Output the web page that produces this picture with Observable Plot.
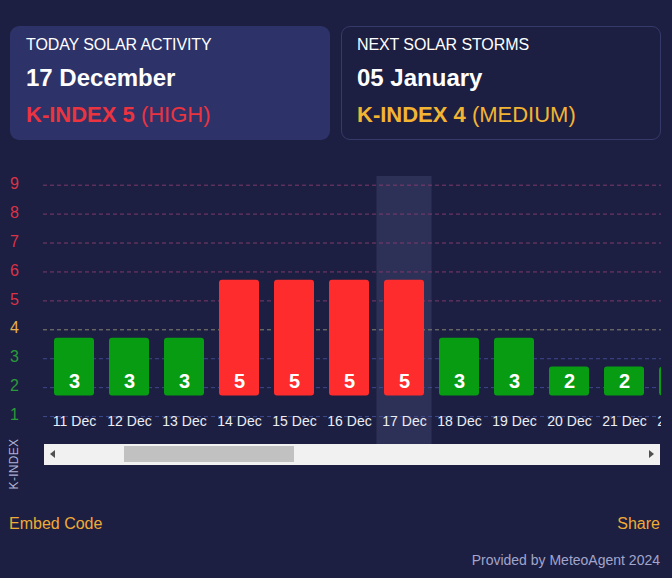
<!DOCTYPE html>
<html>
<head>
<meta charset="utf-8">
<script src="https://cdn.jsdelivr.net/npm/d3@7"></script>
<script src="https://cdn.jsdelivr.net/npm/@observablehq/plot@0.6"></script>
<style>
  html, body { margin: 0; padding: 0; }
  body { background: #1c1f41; font-family: "Liberation Sans", Arial, sans-serif; width: 672px; height: 578px; overflow: hidden; position: relative; }
  .card { position: absolute; top: 26px; width: 320px; height: 114px; box-sizing: border-box; border-radius: 9px; }
  .t { position: absolute; line-height: 1; white-space: nowrap; }
  .l1 { font-size: 16px; color: #ffffff; letter-spacing: -0.1px; }
  .l2 { font-size: 24px; font-weight: bold; color: #ffffff; }
  .l3 { font-size: 22px; }
  .l3 b { font-weight: bold; }
  #chart { position: absolute; left: 0; top: 160px; width: 661px; height: 285px; overflow: hidden; }
  #ylab { position: absolute; left: 14px; top: 464px; transform: translate(-50%, -50%) rotate(-90deg); font-size: 12px; color: #aeb1d6; letter-spacing: 0.3px; white-space: nowrap; }
  #track { position: absolute; left: 44px; top: 444px; width: 616px; height: 21px; background: #f1f1f1; }
  #thumb { position: absolute; left: 80px; top: 2px; width: 170px; height: 16px; background: #c1c1c1; }
  .arr { position: absolute; top: 6px; width: 0; height: 0; border-top: 4.5px solid transparent; border-bottom: 4.5px solid transparent; }
  #al { left: 6px; border-right: 5px solid #505050; }
  #ar { right: 6px; border-left: 5px solid #505050; }
  .foot { position: absolute; line-height: 1; white-space: nowrap; }
</style>
</head>
<body>
<div class="card" style="left:10px; background:#2d3268;"></div>
<div class="card" style="left:341px; border:1px solid #363a68;"></div>

<div class="t l1" style="left:26px; top:37px;">TODAY SOLAR ACTIVITY</div>
<div class="t l2" style="left:26px; top:66px;">17 December</div>
<div class="t l3" style="left:26px; top:104px; color:#ec3340;"><b>K-INDEX 5</b> (HIGH)</div>

<div class="t l1" style="left:357px; top:37px;">NEXT SOLAR STORMS</div>
<div class="t l2" style="left:357px; top:66px;">05 January</div>
<div class="t l3" style="left:357px; top:104px; color:#f4b433;"><b>K-INDEX 4</b> (MEDIUM)</div>

<div id="chart"></div>
<div id="ylab">K-INDEX</div>
<div id="track"><div id="al" class="arr"></div><div id="thumb"></div><div id="ar" class="arr"></div></div>

<div class="foot" style="left:9px; top:515.5px; font-size:16px; color:#f0ab35;">Embed Code</div>
<div class="foot" style="right:12px; top:515.5px; font-size:16px; color:#f0ab35;">Share</div>
<div class="foot" style="right:12px; top:553px; font-size:14px; color:#a2a5cc;">Provided by MeteoAgent 2024</div>

<script>
// ---- data ----
const days = ["11 Dec", "12 Dec", "13 Dec", "14 Dec", "15 Dec", "16 Dec", "17 Dec", "18 Dec", "19 Dec", "20 Dec", "21 Dec", "22 Dec"];
const kIndex = [3, 3, 3, 5, 5, 5, 5, 3, 3, 2, 2, 2];
const today = "17 Dec";
const yTicks = [1, 2, 3, 4, 5, 6, 7, 8, 9];

const data = days.map((day, i) => ({day, k: kIndex[i]}));

// ---- styles ----
const BAR_BASE = 1.71;
const barColor = k => k >= 5 ? "#fe2c2c" : k === 4 ? "#f4b433" : "#079c12";
const tickColor = k => k >= 5 ? "#db3348" : k === 4 ? "#e6b04c" : "#2a9b3a";
const gridColor = k => k >= 5 ? "#7e3a6c" : k === 4 ? "#8a8372" : "#3d4a8e";

const plot = Plot.plot({
  width: 661,
  height: 285,
  marginLeft: 43,
  marginRight: 0,
  marginTop: 16,
  marginBottom: 0,
  style: {background: "transparent", overflow: "hidden", fontFamily: "'Liberation Sans', Arial, sans-serif"},
  x: {type: "band", domain: days, range: [54, 699], paddingInner: 15 / 55, paddingOuter: 0, axis: null},
  y: {domain: [0, 9.3], axis: null},
  marks: [
    Plot.barY([today], {x: d => d, y1: 0, y2: 9.3, fill: "#2e3157", insetLeft: -7.5, insetRight: -7.5}),
    Plot.ruleY(yTicks, {y: d => d, stroke: d => gridColor(d), strokeDasharray: "4,3", strokeWidth: 1}),
    Plot.barY(data, {x: "day", y1: BAR_BASE, y2: d => d.k + BAR_BASE - 1, fill: d => barColor(d.k), rx: 3, insetLeft: 0, insetRight: 0}),
    Plot.text(data, {x: "day", y: BAR_BASE, text: d => String(d.k), dy: -14, fill: "#ffffff", fontWeight: "bold", fontSize: 20}),
    Plot.text(days, {x: d => d, y: 1, text: d => d, dy: 5, fill: "#eceef6", fontSize: 14}),
    Plot.text(yTicks, {y: d => d, text: d => String(d), frameAnchor: "left", dx: -29, dy: -1.5, textAnchor: "middle", fill: d => tickColor(d), fontSize: 16})
  ]
});
document.getElementById("chart").appendChild(plot);
</script>
</body>
</html>
